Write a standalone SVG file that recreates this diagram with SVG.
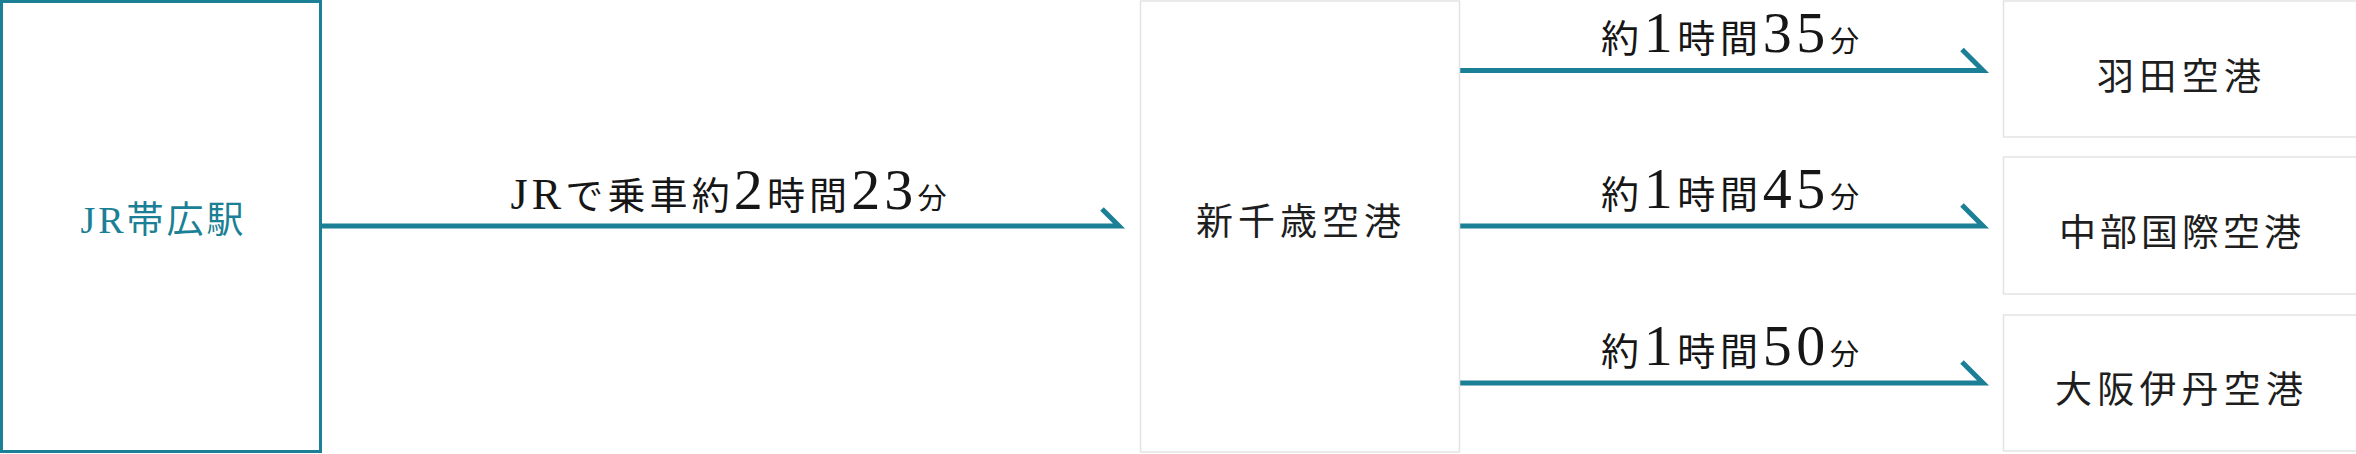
<svg xmlns="http://www.w3.org/2000/svg" width="2356" height="454" viewBox="0 0 2356 454">
<style>
.bg{fill:#ffffff}
.start{fill:#ffffff;stroke:#1b7f96;stroke-width:3}
.box{fill:#ffffff;stroke:#e3e3e3;stroke-width:1.5}
.node{font-family:"Liberation Serif","Noto Sans CJK JP",serif;font-weight:400;fill:#1e1e1e;font-size:37px}
.teal{fill:#1b7f96}
.lbl{font-family:"Liberation Serif","Noto Sans CJK JP",serif;font-weight:400;fill:#161616;font-size:38px}
.num{font-size:58px}
.small{font-size:29px}
.latin{font-size:44px}
.arrow{fill:none;stroke:#1b7f96;stroke-width:5;stroke-linejoin:miter;stroke-miterlimit:10}
</style>
<rect class="bg" x="0" y="0" width="2356" height="454"/>
<g id="connectors">
  <polyline class="arrow" points="321,226 1119,226 1102,209"/>
  <polyline class="arrow" points="1459,70.5 1983,70.5 1962,49.5"/>
  <polyline class="arrow" points="1459,226 1983,226 1962,205"/>
  <polyline class="arrow" points="1459,383 1983,383 1962,362"/>
  <text class="lbl" x="728.5" y="209" text-anchor="middle" textLength="436" lengthAdjust="spacing"><tspan class="latin">JR</tspan>で乗車約<tspan class="num">2</tspan>時間<tspan class="num">23</tspan><tspan class="small">分</tspan></text>
  <text class="lbl" x="1730" y="52" text-anchor="middle" textLength="258" lengthAdjust="spacing">約<tspan class="num">1</tspan>時間<tspan class="num">35</tspan><tspan class="small">分</tspan></text>
  <text class="lbl" x="1730" y="207.5" text-anchor="middle" textLength="258" lengthAdjust="spacing">約<tspan class="num">1</tspan>時間<tspan class="num">45</tspan><tspan class="small">分</tspan></text>
  <text class="lbl" x="1730" y="364.5" text-anchor="middle" textLength="258" lengthAdjust="spacing">約<tspan class="num">1</tspan>時間<tspan class="num">50</tspan><tspan class="small">分</tspan></text>
</g>
<g id="node-obihiro">
  <rect class="start" x="1.5" y="1.5" width="319" height="450"/>
  <text class="node teal" x="162" y="233" font-size="36" text-anchor="middle" textLength="163" lengthAdjust="spacing"><tspan font-size="38">JR</tspan>帯広駅</text>
</g>
<g id="node-shinchitose">
  <rect class="box" x="1140.5" y="1" width="319" height="451"/>
  <text class="node" x="1298.5" y="235" font-size="39" text-anchor="middle" textLength="205" lengthAdjust="spacing">新千歳空港</text>
</g>
<g id="node-haneda">
  <rect class="box" x="2003.5" y="1" width="360" height="136"/>
  <text class="node" x="2179" y="90" text-anchor="middle" textLength="164" lengthAdjust="spacing">羽田空港</text>
</g>
<g id="node-chubu">
  <rect class="box" x="2003.5" y="157" width="360" height="137"/>
  <text class="node" x="2180" y="246" text-anchor="middle" textLength="242" lengthAdjust="spacing">中部国際空港</text>
</g>
<g id="node-itami">
  <rect class="box" x="2003.5" y="315" width="360" height="136"/>
  <text class="node" x="2179" y="403" text-anchor="middle" textLength="248" lengthAdjust="spacing">大阪伊丹空港</text>
</g>
</svg>
